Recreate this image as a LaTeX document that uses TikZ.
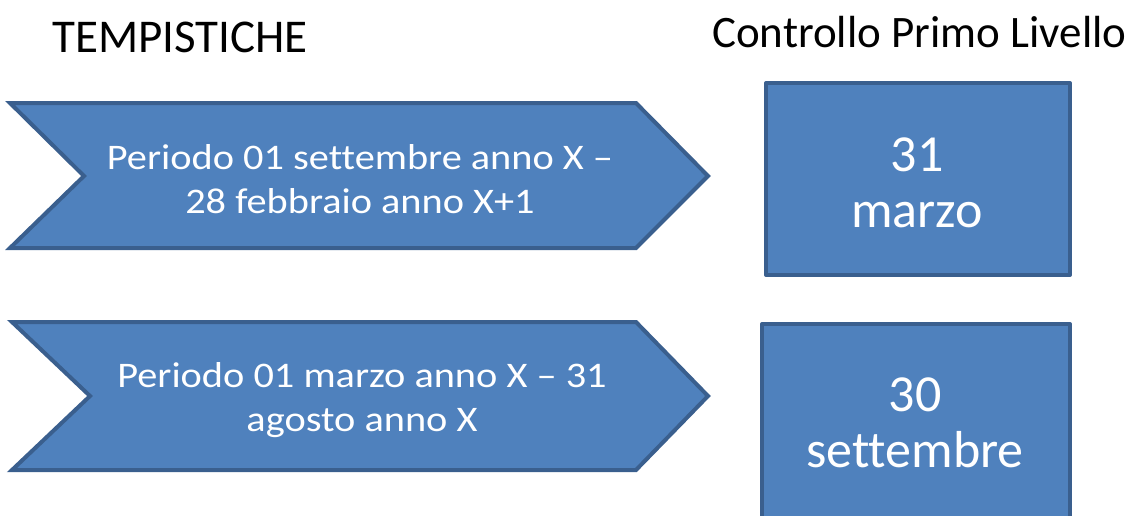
\documentclass[tikz,border=0pt]{standalone}
\usepackage{fontspec}
\setmainfont{Carlito}[Ligatures=NoCommon]
\newfontfamily\chevfont{Carlito}[Ligatures=NoCommon, FakeStretch=1.12]
\definecolor{boxfill}{HTML}{4F81BD}
\definecolor{boxline}{HTML}{3A5F8E}
\tikzset{
  shapestyle/.style={fill=boxfill, draw=boxline, line width=4pt},
  chevtext/.style={text=white, align=center, font=\chevfont\fontsize{36}{44}\selectfont, inner sep=0pt},
  boxtext/.style={text=white, align=center, font=\fontsize{52}{56}\selectfont, inner sep=0pt},
  title/.style={text=black, inner sep=0pt, anchor=base west}
}
\begin{document}
\begin{tikzpicture}[x=1pt,y=-1pt]
\useasboundingbox (0,0) rectangle (1132,515);
\begin{scope}
\clip (0,0) rectangle (1132,515);
% chevron 1
\draw[shapestyle, line join=miter] (10,103) -- (636,103) -- (708,176) -- (636,248) -- (10,248) -- (84,176) -- cycle;
% chevron 2
\draw[shapestyle, line join=miter] (12,322) -- (636,322) -- (708,396) -- (636,470) -- (12,470) -- (90,396) -- cycle;
% boxes
\draw[shapestyle, line join=round] (766,83) rectangle (1070,275);
\draw[shapestyle, line join=round] (762,324) rectangle (1070,520);
\end{scope}
\node[title, font=\fontsize{47}{50}\selectfont] (t1) at (52,52) {TEMPISTICHE};
\node[title, font=\fontsize{45}{50}\selectfont] (t2) at (712,47) {Controllo Primo Livello};
\node[chevtext] (c1) at (360,179) {Periodo 01 settembre anno X –\\28 febbraio anno X+1};
\node[chevtext] (c2) at (362,400) {Periodo 01 marzo anno X – 31\\agosto anno X};
\node[boxtext] (b1) at (917,183) {31\\marzo};
\node[boxtext] (b2) at (915,423) {30\\settembre};
\end{tikzpicture}
\end{document}
